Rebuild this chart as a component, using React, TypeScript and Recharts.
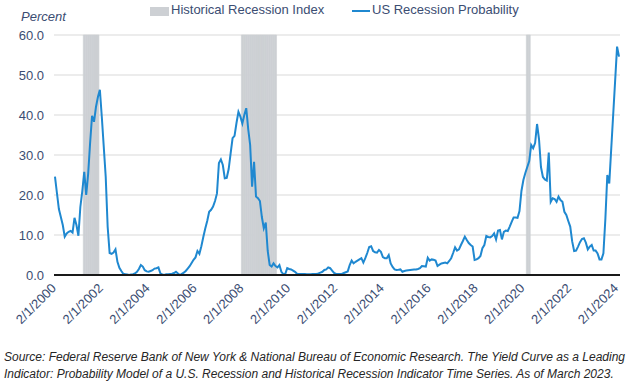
import React from 'react';
import { ComposedChart, Bar, Line, XAxis, YAxis, CartesianGrid } from 'recharts';

const START_YEAR = 2000;
const START_MONTH = 2;

// US recession probability (%), monthly from 2/1/2000
const PROBABILITY: number[] = [
  24.6, 20.5, 16.5, 14.5, 12.5, 9.6, 10.4, 10.8, 11.0, 10.6, 14.3, 12.5,
  9.8, 17.0, 21.0, 25.8, 20.0, 25.3, 33.0, 39.8, 38.3, 42.0, 44.5, 46.3,
  39.5, 32.0, 24.5, 12.0, 5.5, 5.3, 5.6, 6.4, 3.3, 1.8, 1.0, 0.3,
  0.2, 0.1, 0.0, 0.1, 0.2, 0.4, 0.8, 1.5, 2.5, 2.1, 1.2, 0.9,
  0.8, 1.0, 1.2, 1.6, 1.7, 1.9, 0.4, 0.1, 0.0, 0.2, 0.2, 0.25,
  0.3, 0.5, 0.8, 0.4, 0.0, 0.3, 0.6, 1.0, 1.6, 2.2, 3.0, 3.8,
  4.4, 6.0, 5.3, 7.2, 9.5, 11.6, 13.5, 15.8, 16.3, 17.1, 18.5, 20.4,
  28.0, 28.9, 27.5, 24.2, 24.3, 26.5, 30.4, 34.2, 34.8, 38.0, 40.8, 39.6,
  37.9, 40.0, 41.7, 36.5, 32.5, 22.1, 28.3, 19.6, 19.2, 18.5, 14.5, 11.7,
  13.1, 6.0, 2.5, 2.1, 2.9, 2.25, 1.9, 2.5, 0.8, 0.2, 0.3, 1.7,
  1.5, 1.4, 1.1, 0.8, 0.3, 0.25, 0.25, 0.25, 0.25, 0.2, 0.2, 0.2,
  0.25, 0.25, 0.25, 0.4, 0.6, 0.8, 1.25, 1.4, 1.9, 1.7, 1.1, 0.5,
  0.25, 0.25, 0.25, 0.25, 0.5, 0.7, 0.9, 2.5, 3.6, 2.9, 3.3, 3.6,
  3.9, 4.2, 3.1, 4.2, 5.5, 7.0, 7.2, 6.0, 5.7, 5.6, 6.25, 5.8,
  4.5, 4.2, 4.2, 5.0, 2.9, 2.0, 1.4, 1.25, 1.3, 1.4, 0.8, 1.0,
  1.1, 1.2, 1.25, 1.3, 1.35, 1.4, 1.5, 1.7, 2.25, 2.2, 2.1, 4.3,
  3.6, 3.9, 3.8, 3.6, 2.25, 2.6, 2.9, 3.0, 3.1, 2.9, 3.5, 4.2,
  5.5, 6.9, 6.1, 6.4, 7.5, 8.5, 9.6, 8.75, 8.0, 7.5, 7.1, 3.75,
  3.9, 4.2, 4.75, 6.7, 7.5, 9.75, 9.5, 9.4, 9.75, 10.4, 8.9, 11.1,
  11.25, 8.9, 10.8, 11.1, 11.0, 12.1, 13.3, 14.4, 14.4, 14.3, 16.0, 21.0,
  23.75, 25.5, 27.0, 28.5, 32.5, 31.7, 33.0, 37.75, 34.0, 27.0, 24.5, 23.9,
  23.6, 30.6, 18.3, 19.2, 19.0, 18.3, 19.6, 18.75, 18.3, 15.8, 15.0, 13.5,
  12.1, 8.4, 6.0, 6.1, 7.1, 8.2, 9.0, 9.2, 8.1, 6.4, 7.1, 7.5,
  6.1, 6.1, 5.4, 3.9, 3.9, 5.4, 14.0, 25.0, 22.9, 31.5, 40.0, 48.5, 57.1, 54.6,
];

// Historical recession index periods (first and last month flagged)
const RECESSION_PERIODS: [string, string][] = [
  ['5/1/2001', '12/1/2001'],
  ['2/1/2008', '7/1/2009'],
  ['4/1/2020', '5/1/2020'],
];

const Y_TICKS = [0, 10, 20, 30, 40, 50, 60];
const BAR_NAME = 'Historical Recession Index';
const LINE_NAME = 'US Recession Probability';
const Y_LABEL = 'Percent';
const SOURCE_LINES = [
  'Source: Federal Reserve Bank of New York & National Bureau of Economic Research. The Yield Curve as a Leading',
  'Indicator: Probability Model of a U.S. Recession and Historical Recession Indicator Time Series. As of March 2023.',
];

const MONTHS: string[] = PROBABILITY.map((_, i) => {
  const m0 = START_MONTH - 1 + i;
  return `${(m0 % 12) + 1}/1/${START_YEAR + Math.floor(m0 / 12)}`;
});

const REC_RANGES = RECESSION_PERIODS.map(([a, b]) => [MONTHS.indexOf(a), MONTHS.indexOf(b)]);

const DATA = MONTHS.map((date, i) => ({
  date,
  prob: PROBABILITY[i],
  rec: REC_RANGES.some(([s, e]) => i >= s && i <= e) ? 1 : 0,
}));

const TEXT_COLOR = '#3B4D72';
const LINE_COLOR = '#1F88D0';
const BAR_COLOR = '#CDD0D4';
const FONT = '"Liberation Sans", Arial, sans-serif';

const YTick = (props: any) => {
  const { x, y, payload } = props;
  return (
    <text x={x} y={y} dy={4.5} textAnchor="end" fill={TEXT_COLOR} fontSize={13} fontFamily={FONT}>
      {Number(payload.value).toFixed(1)}
    </text>
  );
};

const XTick = (props: any) => {
  const { x, y, payload } = props;
  return (
    <g transform={`translate(${x + 2},${y + 14})`}>
      <text x={0} y={0} textAnchor="end" transform="rotate(-45)" fill={TEXT_COLOR} fontSize={13} fontFamily={FONT}>
        {payload.value}
      </text>
    </g>
  );
};

export default function App() {
  return (
    <div style={{ position: 'absolute', left: 0, top: 0, width: 630, height: 384, background: '#fff', fontFamily: FONT }}>
      <ComposedChart
        width={630}
        height={384}
        data={DATA}
        margin={{ top: 35, right: 10, left: 0, bottom: 0 }}
        barCategoryGap={0}
        barGap={0}
      >
        <CartesianGrid vertical={false} stroke="#D9D9D9" yAxisId="p" />
        <XAxis
          dataKey="date"
          interval={23}
          tickLine={false}
          tickSize={0}
          tickMargin={0}
          height={109}
          axisLine={{ stroke: '#1A1A1A', strokeWidth: 2 }}
          tick={<XTick />}
        />
        <YAxis
          yAxisId="p"
          domain={[0, 60]}
          ticks={Y_TICKS}
          width={54}
          axisLine={false}
          tickLine={false}
          tickSize={0}
          tickMargin={10}
          tick={<YTick />}
        />
        <YAxis yAxisId="r" hide domain={[0, 1]} />
        <Bar dataKey="rec" name={BAR_NAME} yAxisId="r" fill={BAR_COLOR} stroke={BAR_COLOR} strokeWidth={0.6} isAnimationActive={false} />
        <Line
          dataKey="prob"
          name={LINE_NAME}
          yAxisId="p"
          type="linear"
          stroke={LINE_COLOR}
          strokeWidth={2}
          dot={false}
          activeDot={false}
          isAnimationActive={false}
        />
      </ComposedChart>

      <div style={{ position: 'absolute', left: 150, top: 7, width: 19, height: 9, background: BAR_COLOR }} />
      <div style={{ position: 'absolute', left: 171, top: 2, fontSize: 13, lineHeight: '16px', color: TEXT_COLOR, whiteSpace: 'nowrap' }}>{BAR_NAME}</div>
      <div style={{ position: 'absolute', left: 352, top: 10, width: 18, height: 2, background: LINE_COLOR }} />
      <div style={{ position: 'absolute', left: 372, top: 2, fontSize: 13, lineHeight: '16px', color: TEXT_COLOR, whiteSpace: 'nowrap' }}>{LINE_NAME}</div>

      <div style={{ position: 'absolute', left: 21, top: 9, fontSize: 13, lineHeight: '16px', fontStyle: 'italic', color: TEXT_COLOR }}>{Y_LABEL}</div>

      <div style={{ position: 'absolute', left: 4, top: 349, fontSize: 12, lineHeight: '17px', fontStyle: 'italic', color: '#262626', whiteSpace: 'nowrap' }}>
        {SOURCE_LINES.map((l, i) => (
          <div key={i}>{l}</div>
        ))}
      </div>
    </div>
  );
}
